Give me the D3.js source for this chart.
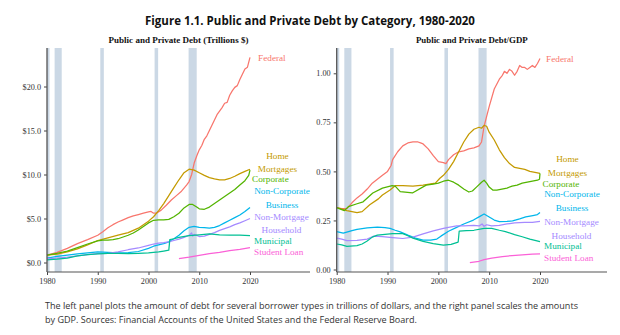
<!DOCTYPE html>
<html><head><meta charset="utf-8">
<script src="https://cdn.jsdelivr.net/npm/d3@7/dist/d3.min.js"></script>
<style>
body{margin:0;background:#fff;}
svg{display:block;}
</style></head><body>
<svg id="chart" width="620" height="335"></svg>
<script>
// ---------------- data ----------------
const xTickYears = [1980, 1990, 2000, 2010, 2020];
const levelTicks = [0, 5, 10, 15, 20];
const ratioTicks = [0, 0.25, 0.5, 0.75, 1.0];
const recessions = [[1980.0, 1980.5], [1981.5, 1982.9], [1990.5, 1991.2], [2001.2, 2001.9], [2007.9, 2009.5]];

const seriesNames = ["Federal", "Home Mortgages", "Corporate", "Non-Corporate Business", "Non-Mortgage Household", "Municipal", "Student Loan"];
const seriesColors = ["#F8766D", "#C49A00", "#53B400", "#00B6EB", "#A58AFF", "#00C094", "#FB61D7"];

// Left panel: trillions of dollars
const federalLevel = [[1980,0.83],[1982,1.15],[1984,1.6],[1986,2.15],[1988,2.6],[1990,3.1],[1991,3.5],[1992,3.95],[1993,4.3],[1994,4.6],[1995,4.85],[1996,5.1],[1997,5.3],[1998,5.45],[1999,5.6],[2000,5.75],[2000.5,5.8],[2001,5.6],[2001.7,5.65],[2002.5,5.95],[2003.5,6.5],[2004.5,7.1],[2005.5,7.6],[2006.5,8.1],[2007.5,8.8],[2008,9.2],[2008.5,10.0],[2009,11.3],[2009.5,12.1],[2010,12.8],[2010.5,13.3],[2011,14.0],[2011.5,14.4],[2012,15.0],[2012.5,15.6],[2013,16.2],[2013.5,16.8],[2014,17.2],[2014.5,17.6],[2015,18.1],[2015.5,18.2],[2016,19.0],[2016.5,19.5],[2017,19.9],[2017.5,20.1],[2018,20.8],[2018.5,21.4],[2019,22.0],[2019.5,22.2],[2020,23.3]];
const homeMortLevel = [[1980,0.85],[1982,0.95],[1984,1.2],[1986,1.55],[1988,2.0],[1990,2.5],[1992,2.8],[1994,3.1],[1996,3.4],[1998,3.9],[2000,4.7],[2001,5.2],[2002,5.9],[2003,6.7],[2004,7.6],[2005,8.5],[2006,9.4],[2007,10.2],[2008,10.6],[2009,10.5],[2010,10.2],[2011,9.9],[2012,9.65],[2013,9.5],[2014,9.4],[2015,9.4],[2016,9.55],[2017,9.8],[2018,10.1],[2019,10.35],[2020,10.6]];
const corporateLevel = [[1980,0.85],[1982,1.05],[1984,1.3],[1986,1.7],[1988,2.1],[1990,2.45],[1991,2.55],[1992,2.55],[1993,2.6],[1994,2.7],[1995,2.9],[1996,3.1],[1997,3.35],[1998,3.7],[1999,4.1],[2000,4.5],[2001,4.8],[2002,4.85],[2003,4.85],[2004,4.9],[2005,5.2],[2006,5.6],[2007,6.2],[2008,6.6],[2008.7,6.6],[2009.5,6.3],[2010,6.1],[2011,6.05],[2012,6.3],[2013,6.7],[2014,7.1],[2015,7.5],[2016,7.9],[2017,8.3],[2018,8.8],[2019,9.3],[2019.75,9.9],[2020,10.5]];
const nonCorpLevel = [[1980,0.5],[1982,0.7],[1984,0.85],[1986,0.98],[1988,1.1],[1990,1.2],[1992,1.15],[1994,1.1],[1996,1.12],[1998,1.25],[2000,1.6],[2001,1.85],[2002,2.0],[2003,2.15],[2004,2.35],[2005,2.7],[2006,3.1],[2007,3.6],[2008,4.0],[2009,4.1],[2010,4.0],[2011,3.95],[2012,3.9],[2013,4.0],[2014,4.2],[2015,4.5],[2016,4.8],[2017,5.1],[2018,5.4],[2019,5.8],[2020,6.25]];
const nonMortLevel = [[1980,0.45],[1982,0.5],[1984,0.6],[1986,0.75],[1988,0.9],[1990,1.0],[1992,1.05],[1994,1.2],[1996,1.45],[1998,1.65],[2000,1.95],[2001,2.1],[2002,2.2],[2003,2.25],[2004,2.35],[2005,2.5],[2006,2.65],[2007,2.85],[2008,3.1],[2008.5,3.35],[2008.7,3.0],[2009,3.2],[2010,2.95],[2011,3.0],[2012,3.2],[2013,3.4],[2014,3.65],[2015,3.85],[2016,4.05],[2017,4.3],[2018,4.5],[2019,4.75],[2020,5.0]];
const municipalLevel = [[1980,0.3],[1982,0.38],[1984,0.5],[1986,0.75],[1988,0.9],[1990,0.98],[1992,1.05],[1994,1.05],[1996,1.02],[1998,1.05],[2000,1.08],[2002,1.2],[2003,1.3],[2004,1.4],[2004.2,2.6],[2005,2.7],[2006,2.85],[2008,3.05],[2010,3.15],[2012,3.25],[2014,3.15],[2016,3.1],[2018,3.1],[2020,3.05]];
const studentLevel = [[2006,0.45],[2008,0.6],[2010,0.8],[2012,1.0],[2014,1.15],[2016,1.35],[2018,1.5],[2020,1.68]];

// Right panel: debt / GDP
const federalRatio = [[1980,0.315],[1981,0.31],[1982,0.31],[1983,0.34],[1984,0.365],[1985,0.385],[1986,0.41],[1987,0.44],[1988,0.46],[1989,0.48],[1990,0.5],[1990.7,0.53],[1991,0.56],[1992,0.6],[1993,0.63],[1994,0.645],[1995,0.65],[1996,0.65],[1996.5,0.645],[1997,0.64],[1998,0.615],[1999,0.58],[2000,0.55],[2001,0.545],[2001.5,0.54],[2002,0.56],[2003,0.585],[2004,0.6],[2005,0.605],[2006,0.615],[2007,0.62],[2008,0.63],[2008.5,0.65],[2009,0.73],[2009.5,0.78],[2010,0.83],[2011,0.92],[2012,0.97],[2012.6,0.99],[2013,1.01],[2013.5,1.0],[2014,1.02],[2014.5,1.01],[2015,0.99],[2015.5,1.01],[2016,1.04],[2016.5,1.03],[2017,1.03],[2017.5,1.02],[2018,1.03],[2018.5,1.04],[2019,1.03],[2019.5,1.05],[2020,1.075]];
const homeMortRatio = [[1980,0.315],[1982,0.3],[1984,0.29],[1985,0.295],[1986.5,0.33],[1988.2,0.36],[1989,0.38],[1990.5,0.405],[1991.5,0.427],[1993,0.427],[1995,0.425],[1997,0.43],[1999.4,0.44],[2000.3,0.465],[2001,0.48],[2002,0.51],[2003,0.55],[2004,0.6],[2005,0.65],[2006,0.69],[2007,0.715],[2008,0.725],[2008.5,0.72],[2009,0.735],[2009.5,0.73],[2010,0.7],[2011,0.66],[2012,0.61],[2013,0.57],[2014,0.54],[2015,0.52],[2016,0.515],[2017,0.51],[2018,0.5],[2019,0.495],[2020,0.49]];
const corporateRatio = [[1980,0.315],[1981.5,0.3],[1982.3,0.32],[1984,0.335],[1985.2,0.345],[1987.1,0.39],[1989,0.415],[1990.9,0.427],[1991.5,0.425],[1992.5,0.397],[1994.9,0.39],[1997.6,0.43],[1999,0.435],[2000,0.44],[2001,0.45],[2002,0.455],[2003,0.445],[2004,0.43],[2005,0.41],[2006,0.395],[2006.7,0.4],[2007.5,0.42],[2008.5,0.445],[2009,0.455],[2009.5,0.44],[2010,0.42],[2010.7,0.405],[2011.5,0.405],[2012.5,0.41],[2013.5,0.415],[2014.5,0.425],[2015.5,0.43],[2016.5,0.44],[2017.5,0.445],[2018.5,0.45],[2019.5,0.455],[2019.9,0.46],[2020,0.49]];
const nonCorpRatio = [[1980,0.193],[1981.3,0.185],[1983,0.198],[1984,0.205],[1986,0.212],[1988,0.216],[1989.5,0.214],[1990.5,0.21],[1991.5,0.2],[1992.5,0.192],[1994,0.175],[1995.5,0.16],[1997,0.15],[1998.5,0.15],[1999.7,0.155],[2000.5,0.17],[2002,0.195],[2003.6,0.215],[2005,0.232],[2006.9,0.252],[2008,0.268],[2009,0.283],[2010,0.268],[2011,0.252],[2012,0.244],[2013.5,0.245],[2014.6,0.248],[2016,0.258],[2017.2,0.268],[2018.6,0.275],[2019.5,0.28],[2020,0.29]];
const nonMortRatio = [[1980,0.16],[1981,0.155],[1982,0.147],[1984,0.148],[1986,0.155],[1987.3,0.17],[1989,0.167],[1991,0.162],[1993,0.158],[1995,0.165],[1997,0.182],[1999,0.197],[2001,0.21],[2002,0.215],[2003.6,0.222],[2005,0.222],[2007,0.225],[2008,0.222],[2008.6,0.232],[2009,0.22],[2009.5,0.228],[2010.5,0.222],[2012,0.225],[2013.5,0.232],[2015,0.238],[2017,0.24],[2018.5,0.24],[2020,0.245]];
const municipalRatio = [[1980,0.13],[1981,0.125],[1982,0.118],[1984,0.122],[1985,0.13],[1986,0.145],[1987,0.165],[1988,0.175],[1990,0.18],[1991,0.183],[1993,0.183],[1994,0.172],[1995,0.16],[1997,0.143],[1999,0.132],[2001,0.124],[2002.5,0.128],[2003.9,0.14],[2004.1,0.195],[2005.5,0.198],[2007,0.2],[2009,0.21],[2010.5,0.21],[2012,0.2],[2013.2,0.193],[2015,0.178],[2016.5,0.167],[2018,0.155],[2020,0.142]];
const studentRatio = [[2006.2,0.035],[2008,0.042],[2009,0.05],[2010.5,0.058],[2012.6,0.066],[2014.5,0.071],[2016.5,0.075],[2018.5,0.078],[2020,0.08]];

const levelSeries = [federalLevel, homeMortLevel, corporateLevel, nonCorpLevel, nonMortLevel, municipalLevel, studentLevel];
const ratioSeries = [federalRatio, homeMortRatio, corporateRatio, nonCorpRatio, nonMortRatio, municipalRatio, studentRatio];

// direct labels (lines of text, anchor year/value in panel data units)
const levelLabels = [
  {lines:["Federal"], year:2021.6, value:23.2, anchor:"start"},
  {lines:["Home","Mortgages"], year:2025.4, value:12.1, anchor:"middle"},
  {lines:["Corporate"], year:2020.4, value:9.45, anchor:"start"},
  {lines:["Non-Corporate","Business"], year:2026.3, value:8.1, anchor:"middle"},
  {lines:["Non-Mortgage","Household"], year:2026.2, value:5.2, anchor:"middle"},
  {lines:["Municipal"], year:2020.8, value:2.4, anchor:"start"},
  {lines:["Student Loan"], year:2020.8, value:1.15, anchor:"start"}
];
const ratioLabels = [
  {lines:["Federal"], year:2021.2, value:1.073, anchor:"start"},
  {lines:["Home","Mortgages"], year:2025.4, value:0.562, anchor:"middle"},
  {lines:["Corporate"], year:2020.5, value:0.437, anchor:"start"},
  {lines:["Non-Corporate","Business"], year:2026.3, value:0.383, anchor:"middle"},
  {lines:["Non-Mortgage","Household"], year:2026.2, value:0.241, anchor:"middle"},
  {lines:["Municipal"], year:2020.8, value:0.12, anchor:"start"},
  {lines:["Student Loan"], year:2020.8, value:0.057, anchor:"start"}
];

const mainTitle = "Figure 1.1. Public and Private Debt by Category, 1980-2020";
const captionLines = [
  "The left panel plots the amount of debt for several borrower types in trillions of dollars, and the right panel scales the amounts",
  "by GDP. Sources: Financial Accounts of the United States and the Federal Reserve Board."
];

// ---------------- drawing ----------------
const svg = d3.select("#chart");
const SERIF = "'Liberation Serif','Times New Roman',serif";
const SANS = "'Open Sans','Noto Sans',sans-serif";

function fitText(sel, width) {
  const len = sel.node().getComputedTextLength();
  const fs = parseFloat(sel.attr("font-size"));
  sel.attr("font-size", (fs * width / len).toFixed(2));
}

const t = svg.append("text").attr("x", 310).attr("y", 25).attr("text-anchor", "middle")
  .attr("font-family", SANS).attr("font-weight", 700).attr("font-size", 13)
  .attr("fill", "#111").text(mainTitle);
fitText(t, 330);

let capSize = 8.5;
captionLines.forEach((s, i) => {
  const c = svg.append("text").attr("x", 45).attr("y", 309 + i * 14)
    .attr("font-family", SANS).attr("font-size", capSize).attr("fill", "#333").text(s);
  if (i === 0) { fitText(c, 533); capSize = c.attr("font-size"); }
});

function panel(o) {
  const g = svg.append("g");
  const x = d3.scaleLinear().domain([1980, 2020]).range([o.x0, o.x1]);
  const y = d3.scaleLinear().domain([o.ticks[0], o.ticks[o.ticks.length - 1]]).range([o.y0, o.y1]);

  // recession shading
  g.selectAll("rect.rec").data(recessions).join("rect")
    .attr("x", d => x(d[0])).attr("width", d => x(d[1]) - x(d[0]))
    .attr("y", o.top).attr("height", o.bottom - o.top)
    .attr("fill", "#cbd8e5");

  // series lines
  const line = d3.line().x(d => x(d[0])).y(d => y(d[1]));
  o.series.forEach((s, i) => {
    g.append("path").attr("d", line(s)).attr("fill", "none")
      .attr("stroke", seriesColors[i]).attr("stroke-width", 1.25)
      .attr("stroke-linejoin", "round");
  });

  // axes
  const ya = d3.axisLeft(y).tickValues(o.ticks).tickSize(3).tickFormat(o.fmt);
  const yg = g.append("g").attr("transform", `translate(${o.x0},0)`).call(ya);
  const xa = d3.axisBottom(x).tickValues(xTickYears).tickSize(3).tickFormat(d3.format("d"));
  const xg = g.append("g").attr("transform", `translate(0,${o.bottom})`).call(xa);
  [yg, xg].forEach(a => {
    a.select(".domain").remove();
    a.selectAll("line").attr("stroke", "#444");
    a.selectAll("text").attr("font-family", SERIF).attr("font-size", 8.2).attr("fill", "#333");
  });
  g.append("line").attr("x1", o.x0).attr("x2", o.x0).attr("y1", o.top).attr("y2", o.bottom)
    .attr("stroke", "#555").attr("stroke-width", 1.3);
  g.append("line").attr("x1", o.x0).attr("x2", o.axisEnd).attr("y1", o.bottom).attr("y2", o.bottom)
    .attr("stroke", "#555").attr("stroke-width", 1.1);

  // panel title
  const pt = g.append("text").attr("x", (o.x0 + o.axisEnd) / 2).attr("y", 43)
    .attr("text-anchor", "middle").attr("font-family", SERIF).attr("font-weight", 700)
    .attr("font-size", 9).attr("fill", "#111").text(o.title);
  fitText(pt, o.titleWidth);

  // direct labels
  o.labels.forEach((l, idx) => {
    const tx = g.append("text").attr("text-anchor", l.anchor)
      .attr("font-family", SERIF).attr("font-size", 9.2).attr("fill", seriesColors[idx]);
    l.lines.forEach((ln, k) => {
      tx.append("tspan").attr("x", x(l.year)).attr("y", y(l.value) + 3 + k * 13.3).text(ln);
    });
  });
}

panel({x0: 47, x1: 250, axisEnd: 310, y0: 262.5, y1: 86.5, top: 48, bottom: 272,
  ticks: levelTicks, fmt: d => "$" + d.toFixed(1), series: levelSeries, labels: levelLabels,
  title: "Public and Private Debt (Trillions $)", titleWidth: 140});
panel({x0: 336.7, x1: 540, axisEnd: 607, y0: 269.5, y1: 73.3, top: 48, bottom: 272,
  ticks: ratioTicks, fmt: d3.format(".2f"), series: ratioSeries, labels: ratioLabels,
  title: "Public and Private Debt/GDP", titleWidth: 112});
</script>
</body></html>
